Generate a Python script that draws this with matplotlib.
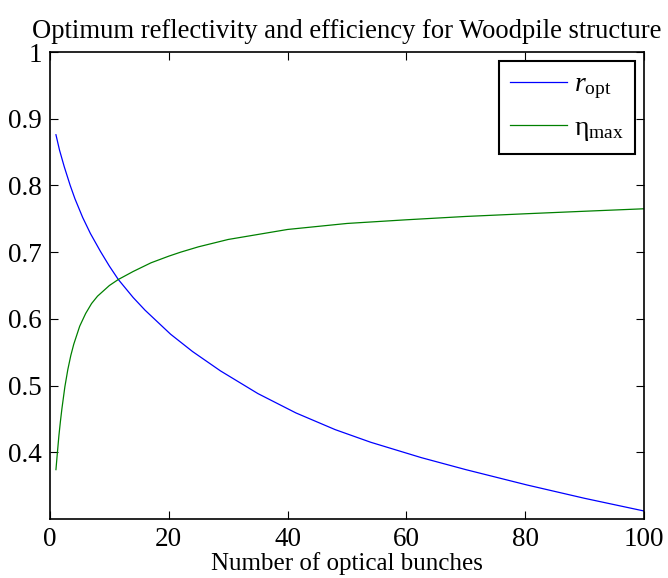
import matplotlib
matplotlib.use("Agg")
import matplotlib.pyplot as plt

plt.rcParams['font.family'] = ['Liberation Serif', 'DejaVu Serif']
plt.rcParams['mathtext.fontset'] = 'custom'
plt.rcParams['mathtext.rm'] = 'Liberation Serif'
plt.rcParams['mathtext.it'] = 'Liberation Serif:italic'

# data
n_r = [1, 1.6, 2.4, 3.4, 4.2, 5.5, 6.8, 8.5, 10, 11.5, 14, 16, 20.3, 24, 28.7,
       35, 41.4, 48, 54, 62.5, 70, 80.3, 90, 100]
r_opt = [0.876, 0.853, 0.828, 0.800, 0.780, 0.752, 0.728, 0.701, 0.679, 0.659,
         0.632, 0.613, 0.577, 0.551, 0.522, 0.488, 0.459, 0.434, 0.415, 0.392,
         0.374, 0.351, 0.331, 0.312]

n_eta = [1, 1.25, 1.5, 1.75, 2, 2.5, 3, 3.5, 4, 5, 6, 7, 8, 10, 11.5, 14, 17,
         20, 22, 25, 30, 40, 50, 60, 70, 80, 90, 100]
eta_max = [0.374, 0.400, 0.425, 0.446, 0.465, 0.498, 0.524, 0.545, 0.562, 0.589,
           0.608, 0.623, 0.634, 0.650, 0.659, 0.671, 0.684, 0.694, 0.700, 0.708,
           0.719, 0.734, 0.743, 0.7485, 0.7535, 0.7575, 0.7613, 0.765]

title = "Optimum reflectivity and efficiency for Woodpile structure"
xlabel = "Number of optical bunches"
xticks = [0, 20, 40, 60, 80, 100]
yticks = [0.4, 0.5, 0.6, 0.7, 0.8, 0.9, 1.0]
ytick_labels = ["0.4", "0.5", "0.6", "0.7", "0.8", "0.9", "1"]

fig = plt.figure(figsize=(6.68, 5.78), dpi=100)
ax = fig.add_axes([50/668, 1-519/578, 594/668, 467/578])

ax.plot(n_r, r_opt, color=(0, 0, 1), lw=0.9, label=r'$r_{\rm opt}$')
ax.plot(n_eta, eta_max, color=(0, 0.5, 0), lw=0.9, label=r'η$_{\rm max}$')

ax.set_xlim(0, 100)
ax.set_ylim(0.3, 1.0)
ax.set_xticks(xticks)
ax.set_yticks(yticks)
ax.set_yticklabels(ytick_labels)
ax.tick_params(direction='in', length=6, width=0.8, top=True, right=True,
               labelsize=19.5)
ax.tick_params(axis='x', pad=5.5)
ax.tick_params(axis='y', pad=6)
for s in ax.spines.values():
    s.set_linewidth(1.2)

ax.set_title(title, fontsize=19.2, pad=10)
ax.set_xlabel(xlabel, fontsize=18, labelpad=0.5)

leg = ax.legend(loc='upper right', fontsize=20, fancybox=False, framealpha=1,
                edgecolor='black', borderaxespad=0.32, handlelength=2.05,
                handletextpad=0.25, labelspacing=0.5, borderpad=0.4)
leg.get_frame().set_linewidth(1.5)

fig.savefig("out.png", dpi=100)
